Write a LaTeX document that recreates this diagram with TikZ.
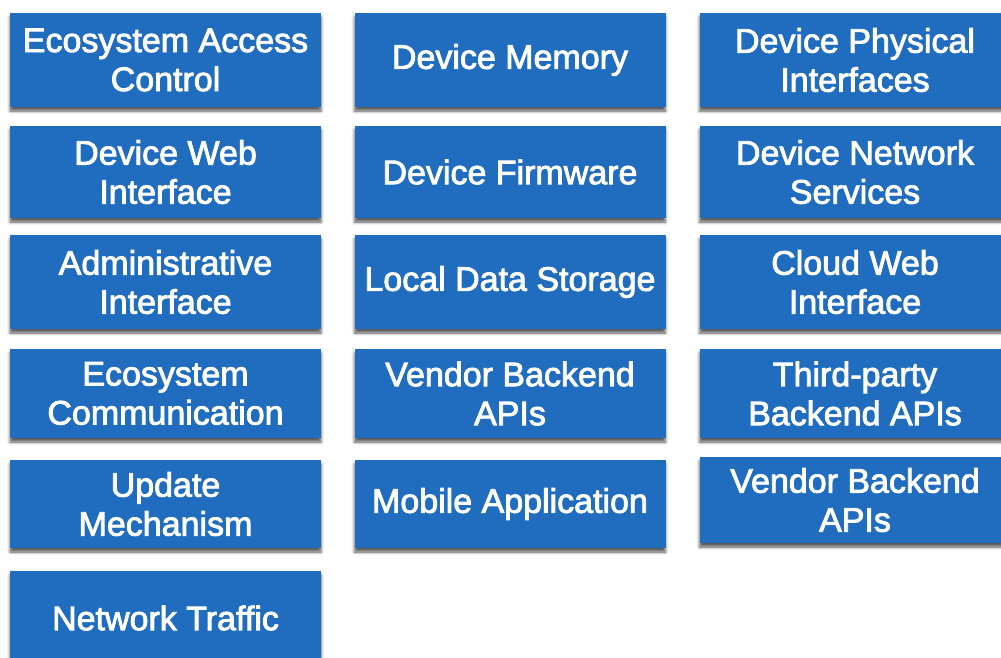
\documentclass[tikz,border=0pt]{standalone}
\usepackage{fontspec}
\newfontfamily\tilefont{Liberation Sans}[FakeBold=2.5]
\usetikzlibrary{shadows.blur}
\definecolor{boxblue}{RGB}{32,108,190}
\tikzset{
  tile/.style={rectangle, fill=boxblue, text=white, inner sep=0pt, align=center,
    minimum width=311pt,
    font=\tilefont\fontsize{34}{39}\selectfont,
    blur shadow={shadow xshift=0pt, shadow yshift=-4pt, shadow blur radius=3pt, shadow opacity=65}},
}
\begin{document}
\begin{tikzpicture}[x=1pt,y=-1pt]
\useasboundingbox (0,0) rectangle (1001,657);
\clip (0,0) rectangle (1001,657);
% row 1 (13-107)
\node[tile, minimum height=94pt] (eac) at (165.5,60) {Ecosystem Access\\Control};
\node[tile, minimum height=94pt] (dm)  at (510,60) {Device Memory};
\node[tile, minimum height=94pt] (dpi) at (855,60) {Device Physical\\Interfaces};
% row 2 (126-218)
\node[tile, minimum height=92pt] (dwi) at (165.5,172) {Device Web\\Interface};
\node[tile, minimum height=92pt] (df)  at (510,172) {Device Firmware};
\node[tile, minimum height=92pt] (dns) at (855,172) {Device Network\\Services};
% row 3 (235-329)
\node[tile, minimum height=94pt] (ai)  at (165.5,282) {Administrative\\Interface};
\node[tile, minimum height=94pt] (lds) at (510,282) {Local Data Storage};
\node[tile, minimum height=94pt] (cwi) at (855,282) {Cloud Web\\Interface};
% row 4 (349-438)
\node[tile, minimum height=89pt] (ec)  at (165.5,393.5) {Ecosystem\\Communication};
\node[tile, minimum height=89pt] (vba) at (510,393.5) {Vendor Backend\\APIs};
\node[tile, minimum height=89pt] (tba) at (855,393.5) {Third-party\\Backend APIs};
% row 5 (460-548)
\node[tile, minimum height=88pt] (um)  at (165.5,504) {Update\\Mechanism};
\node[tile, minimum height=88pt] (ma)  at (510,504) {Mobile Application};
\node[tile, minimum height=86pt] (vbb) at (855,500) {Vendor Backend\\APIs};
% row 6 (571-665)
\node[tile, minimum height=94pt] (nt)  at (165.5,618) {Network Traffic};
\end{tikzpicture}
\end{document}
